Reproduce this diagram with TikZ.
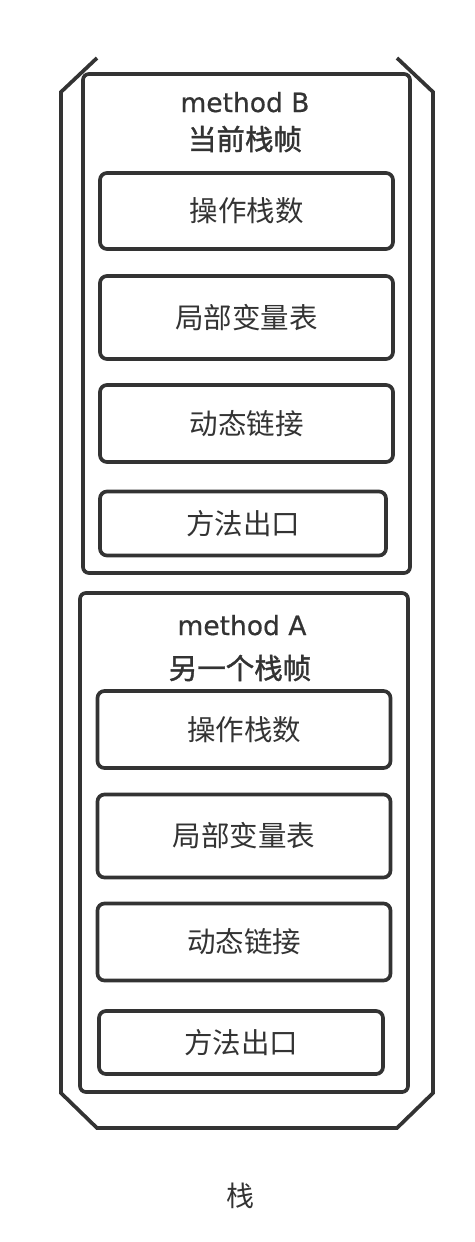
\documentclass[tikz,border=0pt]{standalone}
\usepackage{fontspec}
\setmainfont{DejaVu Sans}
\newfontfamily\latinmed[FakeBold=0.6]{DejaVu Sans}
\newfontfamily\cjk{Noto Sans CJK SC}
\newfontfamily\cjkmed[FakeBold=1.4]{Noto Sans CJK SC}
\definecolor{ink}{HTML}{333333}

\begin{document}
\begin{tikzpicture}[x=1pt, y=-1pt, line width=3.7pt, draw=ink, text=ink,
    frame/.style={draw, rounded corners=6pt, minimum width=#1, minimum height=499pt, inner sep=0pt},
    cell/.style={draw, rounded corners=7pt, minimum width=293pt, inner sep=0pt,
      font=\cjk\fontsize{28.5}{32}\selectfont},
    title/.style={font=\latinmed\fontsize{26.5}{30}\selectfont},
    cjktitle/.style={font=\cjkmed\fontsize{28.5}{32}\selectfont}]
  \useasboundingbox (0,0) rectangle (474,1242);
  % the stack
  \draw [line join=miter] (97,58) -- (61,92) -- (61,1093) -- (97,1128)
    -- (397,1128) -- (433,1093) -- (433,92) -- (397,58);
  \node (s) at (240,1196) {\cjk\fontsize{28}{32}\selectfont 栈};

  % method B
  \node [frame=327pt] (fb) at (246.5,323.5) {};
  \node [title, anchor=base] (tb) at (245,112) {method B};
  \node [cjktitle] (cb) at (245,139) {当前栈帧};
  \node [cell, minimum height=76pt] (b1) at (246.5,211) {操作栈数};
  \node [cell, minimum height=83pt] (b2) at (246.5,317.5) {局部变量表};
  \node [cell, minimum height=77pt] (b3) at (246.5,423.5) {动态链接};
  \node [cell, minimum height=64pt, minimum width=286pt] (b4) at (243,523.5) {方法出口};

  % method A
  \node [frame=328pt] (fa) at (244,842.5) {};
  \node [title, anchor=base] (ta) at (242,635) {method A};
  \node [cjktitle] (ca) at (240,668) {另一个栈帧};
  \node [cell, minimum height=77pt] (a1) at (244,729.5) {操作栈数};
  \node [cell, minimum height=83pt] (a2) at (244,836) {局部变量表};
  \node [cell, minimum height=77pt] (a3) at (244,942) {动态链接};
  \node [cell, minimum height=63pt, minimum width=284pt] (a4) at (241,1042.5) {方法出口};
\end{tikzpicture}
\end{document}
